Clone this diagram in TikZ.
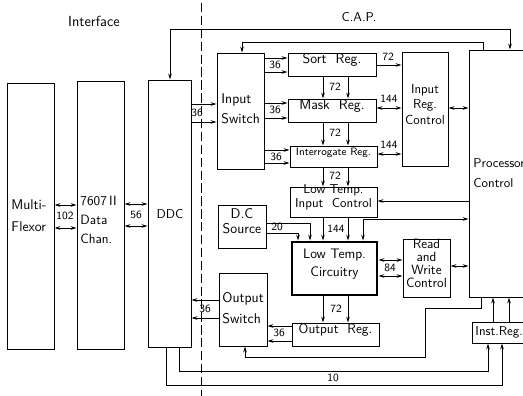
\documentclass[tikz,border=0pt]{standalone}
\usepackage{fontspec}
\setmainfont{Latin Modern Sans}
\usetikzlibrary{fit,arrows.meta}

\begin{document}
\begin{tikzpicture}[x=0.03cm, y=-0.03cm, line width=0.8pt,
        >={Stealth[length=5pt,width=3pt]},
        blk/.style={draw, inner sep=0pt, align=center,
            font=\fontsize{12}{14}\selectfont},
        txt/.style={inner sep=0pt, align=left, font=\fontsize{12}{14}\selectfont},
        num/.style={inner sep=1pt, font=\fontsize{9.5}{9.5}\selectfont}]

        \useasboundingbox (0,0) rectangle (523,396);
        \clip (0,0) rectangle (523,396);

        \draw[line width=0.5pt, dash pattern=on 8pt off 3pt] (201,3) -- (201,396);
        \node[txt, font=\fontsize{12.5}{14}\selectfont] (iface) at (94,21) {Interface};
        \node[txt, font=\fontsize{11}{13}\selectfont] (cap) at (359,17) {C.A.P.};

        \node[blk, fit={(7,83) (54,349)}] (mux) {};
        \node[blk, fit={(77,81) (124,349)}] (dchan) {};
        \node[blk, fit={(148,80) (191,347)}] (ddc) {};
        \node[txt, anchor=west, font=\fontsize{12}{19}\selectfont] (muxtxt) at (11,216) {Multi-\\Flexor};
        \node[txt, anchor=west, font=\fontsize{11.5}{16}\selectfont] (dchantxt) at (80,220) {7607\,II\\Data\\Chan.};
        \node[txt, font=\fontsize{11}{13}\selectfont] (ddctxt) at (170,214) {DDC};

        \node[blk, fit={(217,53) (264,169)}] (insw) {};
        \node[txt, anchor=west, font=\fontsize{12}{17}\selectfont] (inswtxt) at (221,109) {Input\\Switch};
        \node[blk, fit={(288,53) (376,76)}] (sortreg) {Sort\ \ Reg.};
        \node[blk, fit={(288,99) (376,122)}] (maskreg) {Mask\ \ Reg.};
        \node[blk, fit={(290,146) (377,167)}, font=\fontsize{9.2}{11}\selectfont] (intreg) {Interrogate Reg.};
        \node[blk, fit={(402,52) (448,166)}, font=\fontsize{11.2}{13.5}\selectfont] (irc) {Input\\Reg.\\Control};
        \node[blk, fit={(469,50) (540,297)}] (proc) {};
        \node[txt, anchor=west, font=\fontsize{11}{17}\selectfont] (proctxt) at (473,173) {Processor\\Control};
        \node[blk, fit={(290,187) (377,217)}, font=\fontsize{11}{12}\selectfont] (ltic) {Low Temp.\\Input\ \ Control};
        \node[blk, fit={(218,205) (266,248)}, font=\fontsize{12}{13}\selectfont] (dcs) {D.C\\Source};
        \node[blk, fit={(292,242) (377,295)}, line width=2.4pt, font=\fontsize{11.8}{15.5}\selectfont] (ltc) {Low Temp.\\Circuitry};
        \node[blk, fit={(403,239) (450,297)}, font=\fontsize{11.5}{11}\selectfont] (rwc) {Read\\and\\Write\\Control};
        \node[blk, fit={(219,273) (267,346)}] (outsw) {};
        \node[txt, anchor=west, font=\fontsize{12}{18}\selectfont] (outswtxt) at (222,308) {Output\\Switch};
        \node[blk, fit={(292,323) (379,346)}, font=\fontsize{11.6}{13}\selectfont] (outreg) {Output\ \ Reg.};
        \node[blk, fit={(472,322) (540,343)}] (instreg) {};
        \node[txt, anchor=west, font=\fontsize{11}{13}\selectfont] (instregtxt) at (475,332) {Inst.Reg.};

        \foreach \y in {205,228}
            \draw[<->] (mux.east |- 0,\y) -- (dchan.west |- 0,\y);
        \node[num] (n102) at (65,216) {102};
        \foreach \y in {204,226}
            \draw[<->] (dchan.east |- 0,\y) -- (ddc.west |- 0,\y);
        \node[num] (n56) at (136,215) {56};

        \foreach \y in {104,122}
            \draw[->] (ddc.east |- 0,\y) -- (insw.west |- 0,\y);
        \node[num] (n36a) at (197,113) {36};
        \foreach \y/\t in {58/sortreg,72/sortreg,103/maskreg,118/maskreg,150/intreg,163/intreg}
            \draw[->] (insw.east |- 0,\y) -- (\t.west |- 0,\y);
        \node[num] (n36b) at (275,65) {36};
        \node[num] (n36c) at (275,110) {36};
        \node[num] (n36d) at (276,157) {36};

        \foreach \a/\b in {sortreg/maskreg,maskreg/intreg,intreg/ltic,ltic/ltc,ltc/outreg}{
            \draw[->] (\a.south -| 323,0) -- (\b.north -| 323,0);
            \draw[->] (\a.south -| 348,0) -- (\b.north -| 348,0);
        }
        \node[num] (n72a) at (335,87) {72};
        \node[num] (n72b) at (335,133) {72};
        \node[num] (n72c) at (335,176) {72};
        \node[num] (n144a) at (336,229) {144};
        \node[num] (n72d) at (336,309) {72};

        \draw[->] (sortreg.east |- 0,65) -- (irc.west |- 0,65);
        \node[num] (n72e) at (388,57) {72};
        \draw[<->] (maskreg.east |- 0,108) -- (irc.west |- 0,108);
        \node[num] (n144b) at (389,99) {144};
        \draw[<->] (intreg.east |- 0,154) -- (irc.west |- 0,154);
        \node[num] (n144c) at (389,145) {144};
        \draw[<->] (irc.east |- 0,108) -- (proc.west |- 0,108);

        \draw[<->] (ddc.north -| 170,0) -- (170,29) -| (proc.north -| 510,0);
        \draw[->] (proc.north -| 483,0) |- (242,42) -- (insw.north -| 242,0);

        \draw[->] (proc.west |- 0,201) -- (ltic.east |- 0,201);
        \draw[<->] (ltc.north -| 363,0) |- (proc.west |- 0,219);
        \draw[->] (dcs.east |- 0,223) -| (ltc.north -| 310,0);
        \draw[->] (dcs.east |- 0,233) -| (ltc.north -| 298,0);
        \node[num] (n20) at (277,227) {20};

        \foreach \y in {260,276}
            \draw[<->] (ltc.east |- 0,\y) -- (rwc.west |- 0,\y);
        \node[num] (n84) at (390,268) {84};
        \draw[<->] (rwc.east |- 0,266) -- (proc.west |- 0,266);

        \foreach \y in {326,341}
            \draw[->] (outreg.west |- 0,\y) -- (outsw.east |- 0,\y);
        \node[num] (n36e) at (279,333) {36};
        \foreach \y in {300,318}
            \draw[->] (outsw.west |- 0,\y) -- (ddc.east |- 0,\y);
        \node[num] (n36f) at (205,309) {36};

        \draw[->] (proc.south -| 481,0) |- (425,308) |- (245,357) -- (outsw.south -| 245,0);
        \draw[->] (ddc.south -| 179,0) |- (488,371) -- (instreg.south -| 488,0);
        \draw[->] (ddc.south -| 166,0) |- (502,385) -- (instreg.south -| 502,0);
        \node[num] (n10) at (333,378) {10};
        \foreach \x in {493,509}
            \draw[->] (instreg.north -| \x,0) -- (proc.south -| \x,0);

    \end{tikzpicture}
\end{document}
